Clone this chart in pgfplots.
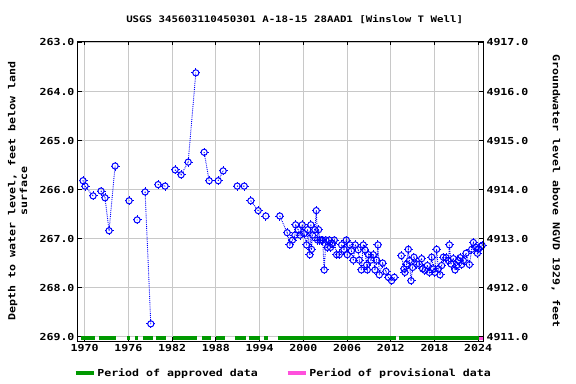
\documentclass[border=0pt]{standalone}
\usepackage{pgfplots}
\pgfplotsset{compat=1.18}
\usepackage{pgfplotstable}
\usepackage{fontspec}
\setmainfont{DejaVu Sans Mono}[FakeStretch=1.2]
\definecolor{apgreen}{RGB}{0,153,0}
\definecolor{provpink}{RGB}{255,80,220}
\definecolor{gridgray}{RGB}{200,200,200}
\pgfdeclareplotmark{usgs}{%
  \pgfpathcircle{\pgfpointorigin}{3.1bp}\pgfusepathqstroke
  \pgfpathmoveto{\pgfqpoint{0bp}{3.1bp}}\pgfpathlineto{\pgfqpoint{0bp}{4.5bp}}%
  \pgfpathmoveto{\pgfqpoint{0bp}{-3.1bp}}\pgfpathlineto{\pgfqpoint{0bp}{-4.5bp}}%
  \pgfpathmoveto{\pgfqpoint{3.1bp}{0bp}}\pgfpathlineto{\pgfqpoint{4.5bp}{0bp}}%
  \pgfpathmoveto{\pgfqpoint{-3.1bp}{0bp}}\pgfpathlineto{\pgfqpoint{-4.5bp}{0bp}}%
  \pgfusepathqstroke
  \pgfpathcircle{\pgfpointorigin}{0.5bp}\pgfusepathqfill
}
\pgfplotstableread{
x y
1969.77 265.82
1970.05 265.93
1971.15 266.13
nan nan
1972.24 266.03
1972.79 266.17
1973.34 266.84
1974.17 265.52
nan nan
1976.09 266.23
nan nan
1977.19 266.62
nan nan
1978.29 266.05
1979.07 268.74
nan nan
1980.07 265.90
1981.03 265.93
nan nan
1982.41 265.60
1983.23 265.70
1984.20 265.44
1985.25 263.62
nan nan
1986.39 265.24
1987.08 265.82
nan nan
1988.32 265.82
1989.00 265.62
nan nan
1990.93 265.93
1991.89 265.93
nan nan
1992.80 266.23
1993.81 266.43
nan nan
1994.86 266.54
nan nan
1996.78 266.54
1997.79 266.88
1998.16 267.13
1998.52 267.03
1998.85 266.93
1998.94 266.72
1999.30 266.82
1999.55 266.93
1999.85 266.72
2000.10 266.90
2000.45 267.13
2000.60 266.82
2000.90 267.33
2001.04 266.72
2001.13 267.22
2001.27 266.93
2001.59 266.82
2001.78 266.43
2001.95 267.03
2002.10 266.82
2002.28 267.03
2002.50 267.03
2002.65 267.03
2002.87 267.64
2003.10 267.03
2003.30 267.18
2003.56 267.03
2003.74 267.18
2004.00 267.10
2004.25 267.03
2004.57 267.33
2004.93 267.33
2005.26 267.13
2005.58 267.22
2005.90 267.03
2006.03 267.33
2006.40 267.13
2006.60 267.25
2006.86 267.44
2007.13 267.13
2007.54 267.23
2007.68 267.44
2007.96 267.64
2008.23 267.13
2008.46 267.23
2008.69 267.54
2008.78 267.64
2008.96 267.33
2009.28 267.44
2009.60 267.33
2009.83 267.64
2010.06 267.44
2010.25 267.13
2010.43 267.74
2010.89 267.50
2011.35 267.67
2011.67 267.79
2012.12 267.86
2012.49 267.79
nan nan
2013.45 267.35
2013.82 267.62
2013.95 267.69
2014.18 267.52
2014.41 267.22
2014.55 267.45
2014.78 267.86
2015.00 267.59
2015.19 267.38
2015.56 267.52
2015.92 267.52
2016.24 267.41
2016.38 267.62
2016.70 267.65
2017.02 267.55
2017.30 267.69
2017.62 267.38
2017.85 267.62
2018.07 267.69
2018.30 267.22
2018.53 267.62
2018.76 267.74
2018.99 267.55
2019.22 267.38
2019.59 267.39
2019.91 267.45
2020.05 267.13
2020.27 267.52
2020.59 267.41
2020.82 267.64
2021.05 267.55
2021.28 267.45
2021.51 267.39
2021.74 267.53
2021.97 267.45
2022.33 267.30
2022.79 267.53
2023.11 267.22
2023.34 267.08
2023.66 267.18
2023.89 267.30
2024.07 267.21
2024.35 267.16
2024.55 267.14
}\gwdata
\pgfplotstableread{
x y
1969.55 269.02
1971.38 269.02
nan nan
1971.97 269.02
1974.35 269.02
nan nan
1975.82 269.02
1976.28 269.02
nan nan
1976.92 269.02
1977.38 269.02
nan nan
1978.02 269.02
1979.39 269.02
nan nan
1979.80 269.02
1981.22 269.02
nan nan
1982.14 269.02
1985.43 269.02
nan nan
1986.12 269.02
1987.27 269.02
nan nan
1988.00 269.02
1989.19 269.02
nan nan
1990.65 269.02
1992.07 269.02
nan nan
1992.53 269.02
1994.04 269.02
nan nan
1994.64 269.02
1995.10 269.02
nan nan
1996.56 269.02
2012.68 269.02
nan nan
2013.14 269.02
2024.08 269.02
}\approved
\pgfplotstableread{
x y
2024.08 269.02
2024.63 269.02
}\provisional
\begin{document}
\begin{tikzpicture}
\path[use as bounding box] (-78bp,-43bp) rectangle (498bp,341bp);
\begin{axis}[
  at={(0,0)}, anchor=south west, scale only axis,
  width=405bp, height=300bp,
  xmin=1969.08, xmax=2024.66, ymin=262.97, ymax=269.09, y dir=reverse,
  xtick={1970,1976,...,2024}, ytick={263,...,269},
  grid=major, grid style={gridgray, line width=0.9bp},
  tick align=inside, major tick length=4bp,
  tick style={black, line width=0.8bp},
  axis line style={line width=1bp},
  font=\fontsize{9.7}{11.6}\selectfont\bfseries,
  /pgf/number format/assume math mode=true,
  xticklabel style={/pgf/number format/1000 sep={}},
  yticklabel style={/pgf/number format/.cd, fixed, fixed zerofill, precision=1},
  unbounded coords=jump,
  title={USGS 345603110450301 A-18-15 28AAD1 [Winslow T Well]},
  title style={at={(axis description cs:0.535,1.073)}, anchor=center, yshift=-6pt, font=\fontsize{9}{10}\selectfont\bfseries},
  ylabel={Depth to water level, feet below land\\surface},
  ylabel style={align=center, at={(axis description cs:-0.149,0.5)}, anchor=center},
  legend style={draw=none, fill=none, at={(axis description cs:0.507,-0.107)}, anchor=center,
    /tikz/every even column/.append style={column sep=26bp}},
  legend columns=2,
  legend image code/.code={\draw[#1, line width=3.5bp] (0bp,0bp) -- (18bp,0bp);},
]
\addplot[apgreen, line width=4bp, no marks] table[x=x,y=y] {\approved};
\addlegendentry{Period of approved data}
\addplot[provpink, line width=4bp, no marks] table[x=x,y=y] {\provisional};
\addlegendentry{Period of provisional data}
\addplot[blue, line width=0.9bp, densely dotted, mark=usgs, mark options={solid, line width=1bp}, forget plot] table[x=x,y=y] {\gwdata};
\end{axis}
\begin{axis}[
  at={(0,0)}, anchor=south west, scale only axis,
  width=405bp, height=300bp,
  xmin=1969.08, xmax=2024.66, ymin=4910.91, ymax=4917.03,
  axis y line*=right, axis x line=none,
  ytick={4911,...,4917},
  tick align=inside, major tick length=4bp,
  tick style={black, line width=0.8bp},
  axis line style={line width=1bp},
  font=\fontsize{9.7}{11.6}\selectfont\bfseries,
  /pgf/number format/assume math mode=true,
  yticklabel style={/pgf/number format/.cd, fixed, fixed zerofill, precision=1, 1000 sep={}},
  ylabel={Groundwater level above NGVD 1929, feet},
  ylabel style={at={(axis description cs:1.18,0.5)}, anchor=center, rotate=180},
]
\addplot[draw=none] coordinates {(1970,4912)};
\end{axis}
\end{tikzpicture}
\end{document}
